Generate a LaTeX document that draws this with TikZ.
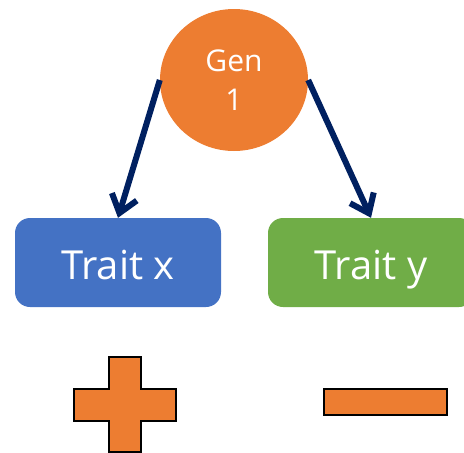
\documentclass[tikz,border=0pt]{standalone}
\usepackage{fontspec}
\setmainfont{Open Sans}
\usetikzlibrary{arrows.meta,shapes.geometric}
\definecolor{genorange}{HTML}{ED7D31}
\definecolor{traitblue}{HTML}{4472C4}
\definecolor{traitgreen}{HTML}{70AD47}
\definecolor{arrownavy}{HTML}{002060}
\tikzset{
  traitbox/.style={rounded corners=15pt, minimum width=206pt, minimum height=89pt,
    inner sep=0pt, text=white, text height=33pt, text depth=0pt,
    font=\fontsize{40}{44}\selectfont},
  genlink/.style={draw=arrownavy, line width=6pt,
    -{Straight Barb[length=17pt,width=26pt]}},
  signshape/.style={fill=genorange, draw=black, line width=2.5pt}
}
\begin{document}
\begin{tikzpicture}[x=1pt, y=-1pt]
  \useasboundingbox (0,0) rectangle (464,453);
  \clip (0,0) rectangle (464,453);
  % central gene
  \node[ellipse, fill=genorange, minimum width=148pt, minimum height=142pt, inner sep=0pt,
        text=white, align=center, font=\fontsize{30}{39}\selectfont]
        (gen) at (234,80) {Gen\\1};
  % traits
  \node[traitbox, fill=traitblue] (tx) at (118,262.5) {Trait x};
  \node[traitbox, fill=traitgreen] (ty) at (371,262.5) {Trait y};
  % links
  \draw[genlink] (gen.west) -- (tx.north);
  \draw[genlink] (gen.east) -- (ty.north);
  % plus sign
  \draw[signshape] (109,357) -- (141,357) -- (141,389) -- (176,389) -- (176,421)
    -- (141,421) -- (141,452) -- (109,452) -- (109,421) -- (74,421) -- (74,389)
    -- (109,389) -- cycle;
  % minus sign
  \draw[signshape] (324,389) rectangle (447,415);
\end{tikzpicture}
\end{document}
